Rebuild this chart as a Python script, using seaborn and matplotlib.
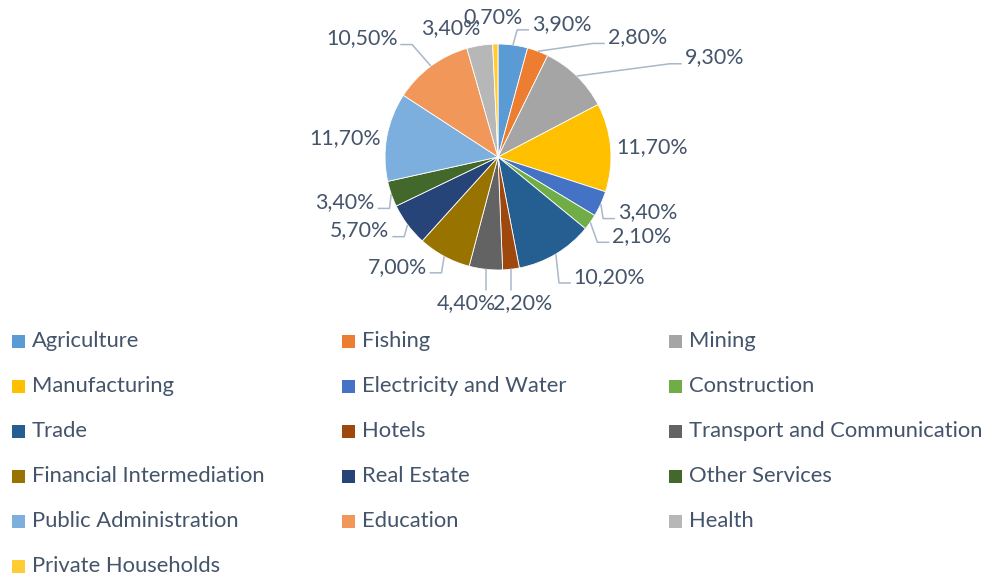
import numpy as np
import matplotlib
matplotlib.use("Agg")
import matplotlib.pyplot as plt
import seaborn as sns
from matplotlib.patches import Rectangle

# Data
sectors = ["Agriculture", "Fishing", "Mining", "Manufacturing",
           "Electricity and Water", "Construction", "Trade", "Hotels",
           "Transport and Communication", "Financial Intermediation",
           "Real Estate", "Other Services", "Public Administration",
           "Education", "Health", "Private Households"]
shares = [3.9, 2.8, 9.3, 11.7, 3.4, 2.1, 10.2, 2.2,
          4.4, 7.0, 5.7, 3.4, 11.7, 10.5, 3.4, 0.7]
colors = ["#5B9BD5", "#ED7D31", "#A5A5A5", "#FFC000", "#4472C4", "#70AD47",
          "#255E91", "#9E480E", "#636363", "#997300", "#264478", "#43682B",
          "#7CAFDD", "#F1975A", "#B7B7B7", "#FFCD33"]

# label anchor positions (pie radius = 1) and leader style
label_pos = [(0.30, 1.18), (0.97, 1.06), (1.65, 0.88), (1.05, 0.09),
             (1.06, -0.49), (1.01, -0.70), (0.67, -1.06), (0.22, -1.29),
             (-0.28, -1.29), (-0.63, -0.97), (-0.96, -0.65), (-1.09, -0.40),
             (-1.04, 0.17), (-0.89, 1.05), (-0.42, 1.14), (-0.04, 1.24)]
leader = ["h", "h", "h", None, "h", "h", "h", "v",
          "v", "h", "h", "h", None, "h", None, None]

text_color = "#44546A"
line_color = "#A9B7C9"

sns.set_theme(style="white")
plt.rcParams['font.family'] = ['Lato', 'DejaVu Sans']

fig = plt.figure(figsize=(9.9, 5.78), dpi=100)

# pie axes: centre at (498, 157) px, radius 113 px
W, H = 990, 578
top_h = 330
cx, cy, r = 498, 157, 113
ax = fig.add_axes([0, (H - top_h) / H, 1, top_h / H])
wedges, _ = ax.pie(shares, colors=colors, startangle=90, counterclock=False,
                   wedgeprops=dict(linewidth=0.6, edgecolor="white"))
ax.set_xlim(-cx / r, (W - cx) / r)
ax.set_ylim(-(top_h - cy) / r, cy / r)
ax.set_aspect("auto")
ax.axis("off")

for w, v, (lx, ly), kind in zip(wedges, shares, label_pos, leader):
    txt = f"{v:.2f}".replace(".", ",") + "%"
    mid = np.deg2rad((w.theta1 + w.theta2) / 2)
    px, py = np.cos(mid), np.sin(mid)
    if kind == "v" or kind is None:
        ha = "center" if kind == "v" or abs(lx) < 0.5 else ("left" if lx > 0 else "right")
    else:
        ha = "left" if lx > 0 else "right"
    ax.text(lx, ly, txt, ha=ha, va="center", fontsize=15.4, color=text_color)
    if kind == "h":
        s = 1 if lx > 0 else -1
        yl = ly - 0.055
        xs = [px, lx - s * 0.13, lx - s * 0.025]
        ys = [py, yl, yl]
        ax.plot(xs, ys, color=line_color, lw=1.1, solid_capstyle="butt")
    elif kind == "v":
        ax.plot([px, px], [py, ly + 0.11], color=line_color, lw=1.1)

# legend, laid out row-wise in three columns
col_x = [12, 342, 669]
row_y0, row_dy = 341, 45
sq = 13
for i, (name, c) in enumerate(zip(sectors, colors)):
    row, col = divmod(i, 3)
    x = col_x[col]
    y = row_y0 + row * row_dy
    fig.patches.append(Rectangle((x / W, (H - y - sq / 2) / H), sq / W, sq / H,
                                 transform=fig.transFigure, facecolor=c,
                                 edgecolor="none"))
    fig.text((x + 20) / W, (H - y) / H, name, ha="left", va="center",
             fontsize=15.8, color=text_color)

fig.savefig("out.png", dpi=100)
